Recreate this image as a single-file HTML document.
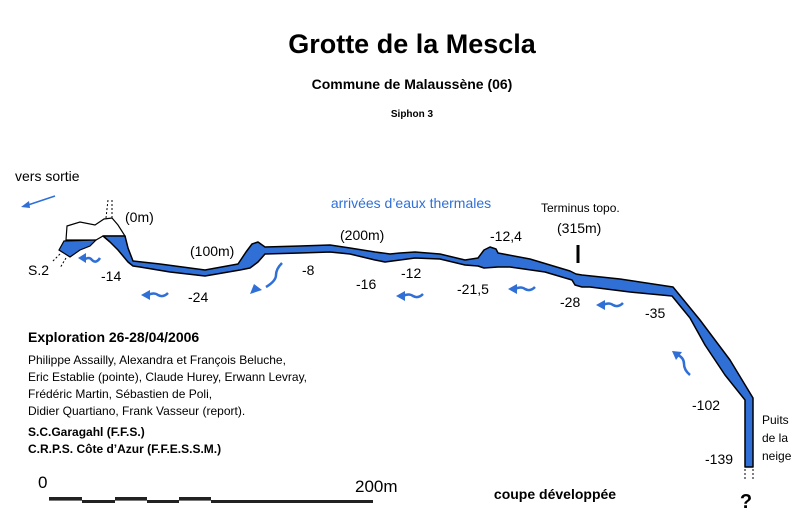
<!DOCTYPE html>
<html><head><meta charset="utf-8"><style>
body{margin:0;background:#fff;width:800px;height:524px;overflow:hidden;font-family:"Liberation Sans",sans-serif}
</style></head><body>
<svg width="800" height="524" viewBox="0 0 800 524" font-family="Liberation Sans, sans-serif">
<text x="412" y="53" font-size="27" font-weight="bold" text-anchor="middle">Grotte de la Mescla</text>
<text x="412" y="89" font-size="14" font-weight="bold" text-anchor="middle">Commune de Malaussène (06)</text>
<text x="412" y="117" font-size="10" font-weight="bold" text-anchor="middle">Siphon 3</text>
<text x="15" y="181" font-size="14">vers sortie</text>
<g stroke="#2f6fd6" stroke-width="1.5" fill="#2f6fd6"><line x1="55" y1="196" x2="25" y2="206"/><polygon points="21,207 29,201 30,208" stroke="none"/></g>
<text x="411" y="208" font-size="14" fill="#2f6fd6" text-anchor="middle">arrivées d’eaux thermales</text>
<path d="M66,240 L67,226 L80,222 L95,225 L104,219 L112,218 L118,225 L125,236 L103,236 L96,240 Z" fill="#fff" stroke="#000" stroke-width="1.2"/>
<path d="M59,250 L64,241 L96,240 L90,246 L80,250 L70,257 Z" fill="#2f6fd6" stroke="#000" stroke-width="1.2"/>
<path d="M103,236 L125,236 L128,248 L133,261 L160,264 L205,270 L238,264 L246,252 L252,244 L258,242 L265,247 L300,246 L330,245 L350,248 L375,252 L390,254 L400,253 L415,252 L440,254 L465,260 L478,258 L484,250 L490,247 L496,249 L498,253 L530,259 L560,268 L570,271 L576,274 L582,275 L620,279 L673,287 L700,320 L730,360 L753,398 L753,467 L745,467 L745,400 L725,375 L705,345 L690,318 L672,296 L630,292 L590,287 L582,287 L575,285 L572,280 L545,272 L510,267 L498,267 L484,268 L478,266 L465,265 L440,259 L415,258 L400,260 L385,262 L375,260 L350,254 L330,252 L300,253 L265,254 L258,262 L250,268 L240,270 L205,276 L170,272 L140,267 L133,266 L128,262 L118,250 L110,242 Z" fill="#2f6fd6" stroke="#000" stroke-width="1.5" stroke-linejoin="round"/>
<line x1="578" y1="245" x2="578" y2="263" stroke="#000" stroke-width="3"/>
<g fill="none" stroke="#000" stroke-dasharray="2,2"><line x1="106" y1="218" x2="108" y2="200"/><line x1="112" y1="218" x2="112" y2="200"/><line x1="745" y1="469" x2="745" y2="479"/><line x1="753" y1="469" x2="753" y2="479"/><line x1="60" y1="254" x2="52" y2="262"/><line x1="66" y1="258" x2="60" y2="268"/></g>
<g font-size="14">
<text x="125" y="222">(0m)</text><text x="190" y="256">(100m)</text><text x="340" y="240">(200m)</text>
<text x="28" y="275">S.2</text><text x="101" y="281">-14</text><text x="188" y="302">-24</text>
<text x="302" y="275">-8</text><text x="356" y="289">-16</text><text x="401" y="278">-12</text>
<text x="457" y="294">-21,5</text><text x="490" y="241">-12,4</text><text x="557" y="233">(315m)</text>
<text x="560" y="307">-28</text><text x="645" y="318">-35</text><text x="692" y="410">-102</text><text x="705" y="464">-139</text>
</g>
<text x="541" y="212" font-size="12">Terminus topo.</text>
<g font-size="12"><text x="762" y="424">Puits</text><text x="762" y="442">de la</text><text x="762" y="460">neige</text></g>
<g fill="none" stroke="#2f6fd6" stroke-width="2.5">
<path d="M84,260 q5,-4 8,0 q4,4 8,-2"/><path d="M148,295 q6,-3 10,0 q5,3 10,-2"/><path d="M282,263 q-6,6 -6,12 q0,6 -10,12"/>
<path d="M403,296 q6,-3 10,0 q5,3 10,-2"/><path d="M515,289 q6,-3 10,0 q5,3 10,-2"/><path d="M603,305 q6,-3 10,0 q5,3 10,-2"/><path d="M678,355 q6,3 6,9 q0,6 6,11"/>
</g>
<g fill="#2f6fd6">
<polygon points="78,258 86,253 86,263"/><polygon points="141,295 150,290 150,300"/><polygon points="250,294 254,284 262,290"/><polygon points="396,296 405,291 405,301"/><polygon points="508,289 517,284 517,294"/><polygon points="596,305 605,300 605,310"/><polygon points="672,351 682,352 676,360"/>
</g>
<text x="28" y="342" font-size="14" font-weight="bold">Exploration 26-28/04/2006</text>
<g font-size="12">
<text x="28" y="364">Philippe Assailly, Alexandra et François Beluche,</text>
<text x="28" y="381">Eric Establie (pointe), Claude Hurey, Erwann Levray,</text>
<text x="28" y="398">Frédéric Martin, Sébastien de Poli,</text>
<text x="28" y="415">Didier Quartiano, Frank Vasseur (report).</text>
</g>
<g font-size="12" font-weight="bold"><text x="28" y="436">S.C.Garagahl (F.F.S.)</text><text x="28" y="453">C.R.P.S. Côte d’Azur (F.F.E.S.S.M.)</text></g>
<text x="38" y="488" font-size="17">0</text>
<text x="355" y="492" font-size="17">200m</text>
<g fill="#222">
<rect x="49" y="497" width="33" height="3"/><rect x="82" y="500" width="33" height="3"/><rect x="115" y="497" width="32" height="3"/><rect x="147" y="500" width="32" height="3"/><rect x="179" y="497" width="32" height="3"/><rect x="211" y="500" width="162" height="3"/>
<rect x="49" y="500" width="324" height="0.6"/>
</g>
<text x="555" y="499" font-size="14" font-weight="bold" text-anchor="middle">coupe développée</text>
<text x="746" y="508" font-size="20" font-weight="bold" text-anchor="middle">?</text>
</svg>
</body></html>
